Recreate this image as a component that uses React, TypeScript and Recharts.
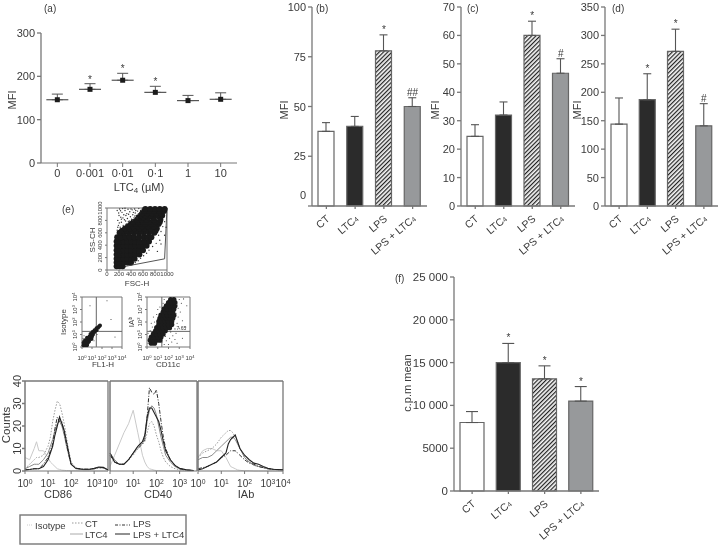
import React from "react";
import {
  Bar,
  Cell,
  ComposedChart,
  ErrorBar,
  LabelList,
  Line,
  LineChart,
  ReferenceDot,
  ReferenceLine,
  Scatter,
  ScatterChart,
  XAxis,
  YAxis,
} from "recharts";

const FONT = "'Liberation Sans', Arial, sans-serif";
const AXIS = "#777";
const TEXT = "#3a3a3a";

// (a)
const doseLabels = ["0", "0·001", "0·01", "0·1", "1", "10"];
const doseMeans = [146, 170, 191, 163, 144, 147];
const doseErrors = [13, 13, 16, 14, 12, 15];
const doseMarks = ["", "*", "*", "*", "", ""];

// (b), (c), (d), (f)
const treatments = ["CT", "LTC4", "LPS", "LPS + LTC4"];
const barFills = ["#fff", "#2b2b2b", "url(#hatch)", "#97999b"];
const cd86Means = [37.5, 40, 78, 50];
const cd86Errors = [4.4, 5, 8, 4.4];
const cd86Marks = ["", "", "*", "##"];
const cd40Means = [24.5, 32, 60, 46.7];
const cd40Errors = [4.1, 4.6, 5, 5.1];
const cd40Marks = ["", "", "*", "#"];
const iabMeans = [144, 187, 272, 141];
const iabErrors = [46, 45.6, 39, 39];
const iabMarks = ["", "*", "*", "#"];
const cpmMeans = [8000, 15000, 13100, 10500];
const cpmErrors = [1280, 2240, 1520, 1700];
const cpmMarks = ["", "*", "*", "*"];

// (e) histograms, x is log10 of the fluorescence
const cd86X = [0, 0.2, 0.4, 0.5, 0.6, 0.8, 1, 1.1, 1.2, 1.3, 1.4, 1.5, 1.6, 1.7, 1.8, 1.9, 2, 2.2, 2.5, 2.8, 3, 3.2, 3.4, 3.6];
const cd86Isotype = [6, 5, 10, 13, 9, 9, 6, 4, 3, 2, 1, 0.7, 0.4, 0.3, 0.2, 0.2, 0.1, 0.1, 0, 0, 0, 0, 0, 0];
const cd86CT = [1, 3, 5, 6, 6, 7, 11, 15, 22, 27, 31, 30, 26, 21, 15, 9, 4, 1.5, 0.8, 0.6, 1, 1.3, 1.3, 0.5];
const cd86LTC4 = [1, 2, 3, 3, 3, 5, 8, 11, 14, 18, 21, 22, 20, 16, 11, 7, 3, 1, 0.6, 0.6, 1, 1.5, 1.4, 0.5];
const cd86LPS = [0.5, 0.7, 1, 1, 1, 3, 6, 9, 12, 19, 24, 22, 22, 17, 12, 7, 3, 1.2, 0.8, 0.8, 1, 1.6, 1.5, 0.5];
const cd86Both = [0.5, 0.7, 1, 1, 1, 2, 5, 8, 11, 16, 20, 24, 21, 18, 13, 8, 3, 1.2, 0.8, 0.8, 1.2, 1.8, 1.6, 0.5];

const cd40X = [0, 0.2, 0.4, 0.6, 0.8, 1, 1.2, 1.3, 1.4, 1.5, 1.6, 1.7, 1.8, 1.9, 2, 2.1, 2.2, 2.3, 2.4, 2.6, 2.8, 3, 3.3, 3.6];
const cd40Isotype = [2, 7, 12, 17, 21, 27, 17, 12, 7, 4, 2, 1, 0.7, 0.4, 0.2, 0.2, 0.1, 0.1, 0, 0, 0, 0, 0, 0];
const cd40CT = [8, 4, 3, 3, 5, 7, 10, 11, 12, 13, 17, 21, 22, 20, 16, 13, 9, 6, 4, 2, 1, 0.6, 0.3, 0.2];
const cd40LTC4 = [8, 5, 3, 3, 5, 8, 11, 12, 13, 15, 22, 27, 29, 28, 25, 20, 15, 11, 7, 4, 2, 1, 0.5, 0.2];
const cd40LPS = [7, 4, 3, 3, 5, 8, 10, 11, 12, 14, 24, 37, 35, 34, 36, 30, 22, 15, 10, 5, 2.5, 1, 0.4, 0.2];
const cd40Both = [8, 4, 3, 3, 5, 8, 11, 12, 13, 16, 24, 28, 28, 26, 24, 22, 18, 13, 9, 5, 2.5, 1.2, 0.5, 0.2];

const iabX = [0, 0.2, 0.4, 0.6, 0.8, 1, 1.2, 1.3, 1.4, 1.5, 1.6, 1.7, 1.8, 2, 2.2, 2.4, 2.6, 2.8, 3, 3.2, 3.4, 3.65];
const iabIsotype = [6, 9, 10, 10, 9, 9, 6, 4, 2, 1.5, 1, 0.5, 0.3, 0.1, 0.1, 0, 0, 0, 0, 0, 0, 0];
const iabCT = [6, 8, 9, 10, 12, 15, 17, 18, 18, 17, 15, 13, 10, 6, 4, 3, 2, 1.5, 1, 0.8, 0.6, 0.5];
const iabLTC4 = [5, 6, 6, 7, 9, 11, 13, 14, 15, 15, 14, 12, 10, 6, 4, 2.5, 2, 1.5, 1, 0.8, 0.6, 0.5];
const iabLPS = [1, 1.5, 2, 3, 4, 6, 7, 8, 9, 9, 9, 8, 7, 5, 3.5, 3, 2, 1.5, 1, 0.8, 0.6, 0.5];
const iabBoth = [0.5, 1, 2, 3, 4, 6, 8, 12, 14, 15, 16, 13, 10, 7, 5, 3.5, 3, 2, 1.2, 0.8, 0.7, 0.5];

// (e) dot plots, the dense parts are read as a coarse set of points
const fscDense = [
  [160, 60], [210, 60], [260, 60],
  [160, 120], [220, 120], [280, 120], [340, 120], [400, 120],
  [160, 180], [220, 180], [280, 180], [340, 180], [400, 180], [460, 180],
  [160, 250], [220, 250], [280, 250], [340, 250], [400, 250], [470, 250], [540, 250],
  [160, 320], [220, 320], [280, 320], [340, 320], [400, 320], [470, 320], [540, 320], [600, 320],
  [160, 390], [220, 390], [280, 390], [340, 390], [400, 390], [470, 390], [540, 390], [600, 390], [660, 390],
  [160, 460], [220, 460], [280, 460], [340, 460], [400, 460], [470, 460], [540, 460], [620, 460], [700, 460],
  [170, 530], [240, 530], [310, 530], [380, 530], [450, 530], [530, 530], [610, 530], [680, 530], [740, 530],
  [210, 600], [290, 600], [370, 600], [450, 600], [530, 600], [610, 600], [700, 600], [790, 600],
  [250, 635], [330, 635], [410, 635], [490, 635], [570, 635], [650, 635], [740, 635], [810, 635],
  [300, 670], [380, 670], [460, 670], [540, 670], [620, 670], [720, 670], [830, 670],
  [350, 705], [430, 705], [510, 705], [590, 705], [680, 705], [790, 705],
  [400, 740], [480, 740], [560, 740], [640, 740], [750, 740], [860, 740],
  [440, 775], [520, 775], [600, 775], [700, 775], [810, 775], [880, 775],
  [500, 810], [580, 810], [660, 810], [780, 810], [890, 810],
  [530, 845], [610, 845], [690, 845], [780, 845], [880, 845],
  [560, 880], [640, 880], [730, 880], [830, 880], [920, 880],
  [590, 915], [670, 915], [750, 915], [830, 915], [900, 915],
  [620, 950], [700, 950], [790, 950], [870, 950], [950, 950],
  [640, 985], [720, 985], [800, 985], [880, 985], [960, 985],
];
const fscSparse = [
  [170, 640], [190, 720], [180, 800], [200, 880], [170, 960], [220, 690], [240, 770], [230, 850], [250, 930], [210, 985],
  [270, 720], [290, 810], [280, 890], [300, 960], [320, 740], [340, 830], [330, 910], [350, 980], [370, 790], [390, 860],
  [380, 940], [410, 820], [430, 890], [420, 970], [450, 840], [470, 920], [460, 985], [490, 880], [510, 950], [530, 990],
  [560, 960], [590, 995], [860, 560], [900, 620], [930, 700], [880, 480], [960, 780], [820, 430], [760, 380], [700, 320],
  [660, 270], [610, 230], [560, 190], [520, 150], [470, 120], [420, 90], [840, 300], [900, 420], [960, 560], [985, 690],
  [205, 760], [265, 840], [315, 880], [360, 900], [400, 985], [440, 930], [480, 960], [520, 900], [180, 690], [260, 990],
  [310, 790], [355, 780], [425, 800], [465, 870], [300, 995], [240, 820], [195, 920], [545, 925], [500, 840], [225, 955],
];
const isotypeDense = [
  [0.15, 0.15], [0.3, 0.15], [0.5, 0.15], [0.15, 0.35], [0.35, 0.35], [0.55, 0.3], [0.7, 0.45], [0.3, 0.55],
  [0.5, 0.55], [0.75, 0.65], [0.95, 0.65], [0.5, 0.75], [0.75, 0.85], [1, 0.85], [0.85, 1.05], [1.1, 1],
  [1.05, 1.2], [1.25, 1.2], [1.25, 1.35], [1.45, 1.35], [1.45, 1.5], [1.6, 1.55], [1.7, 1.65], [1.8, 1.72],
];
const isotypeSparse = [[0.1, 0.7], [0.05, 0.5], [0.2, 0.9], [1.2, 0.5], [1.5, 1], [0.8, 3.3], [2.5, 3.7], [2.9, 2.2], [3.3, 0.8]];
const cd11cDense = [
  [0.4, 0.3], [0.7, 0.3],
  [0.3, 0.55], [0.6, 0.55], [0.9, 0.55], [1.2, 0.55],
  [0.4, 0.8], [0.7, 0.8], [1, 0.8], [1.3, 0.8],
  [0.6, 1.05], [0.9, 1.05], [1.2, 1.05], [1.5, 1.05],
  [0.8, 1.3], [1.1, 1.3], [1.4, 1.3], [1.7, 1.3],
  [0.9, 1.55], [1.2, 1.55], [1.5, 1.55], [1.8, 1.55], [2.1, 1.55],
  [1.1, 1.8], [1.4, 1.8], [1.7, 1.8], [2, 1.8], [2.3, 1.8],
  [1.1, 2.05], [1.4, 2.05], [1.7, 2.05], [2, 2.05], [2.3, 2.05],
  [1.2, 2.3], [1.5, 2.3], [1.8, 2.3], [2.1, 2.3], [2.4, 2.3],
  [1.3, 2.55], [1.6, 2.55], [1.9, 2.55], [2.2, 2.55], [2.5, 2.55],
  [1.5, 2.8], [1.8, 2.8], [2.1, 2.8], [2.4, 2.8],
  [1.6, 3.05], [1.9, 3.05], [2.2, 3.05], [2.5, 3.05],
  [1.8, 3.3], [2.1, 3.3], [2.4, 3.3], [2.6, 3.3],
  [2, 3.55], [2.3, 3.55], [2.6, 3.55],
  [2.2, 3.8], [2.5, 3.8],
];
const cd11cSparse = [
  [0.1, 0.3], [0.15, 0.7], [0.1, 1.1], [0.3, 1.3], [0.5, 1.6], [0.4, 1.9], [0.7, 2], [0.6, 2.4], [0.9, 2.6], [1, 3],
  [1.2, 3.2], [1.5, 3.5], [1.6, 3.8], [3, 3.8], [3.2, 3.5], [2.9, 3.1], [3.1, 2.8], [2.9, 2.4], [3.3, 2.1], [2.8, 1.9],
  [3, 1.5], [2.7, 1.1], [2.4, 0.9], [2.1, 0.7], [1.8, 0.5], [2.3, 0.4], [2, 0.2], [2.6, 0.6], [1.6, 0.2], [2.8, 0.3],
  [3.3, 0.7], [3.6, 1.6], [3.7, 3.3], [3.4, 3.85], [1.4, 0.4], [1.7, 0.85], [2.2, 1.2], [2.6, 1.45], [2.7, 2.7], [2.75, 3.4],
];

const logTickLabels = ["0", "1", "2", "3", "4"];

const toPoints = (list: number[][]) => list.map(([x, y]) => ({ x, y }));

const DoseTick = (props: any) => (
  <text x={props.x} y={props.y + 8} textAnchor="middle" fontSize={11} fontFamily={FONT} fill={TEXT}>
    {props.payload.value}
  </text>
);

// the name slants up to the tick, with the 4 of LTC4 written small
const TreatmentTick = (props: any) => {
  const name: string = props.payload.value;
  const small = name.endsWith("LTC4");
  return (
    <text
      x={props.x + 4}
      y={props.y + 9}
      textAnchor="end"
      fontSize={10.5}
      fontFamily={FONT}
      fill={TEXT}
      transform={`rotate(-40 ${props.x + 4} ${props.y + 9})`}
    >
      {small ? name.slice(0, -1) : name}
      {small ? <tspan fontSize={7}>4</tspan> : null}
    </text>
  );
};

// (b) has its zero label lifted off the axis
const ValueTick = (props: any) => (
  <text
    x={props.x}
    y={props.y + 4 - (props.liftZero && props.payload.value === 0 ? 11 : 0)}
    textAnchor="end"
    fontSize={props.size || 11}
    fontFamily={FONT}
    fill={TEXT}
  >
    {props.format ? props.format(props.payload.value) : props.payload.value}
  </text>
);

const MeanDot = (props: any) => (
  <g key={props.index}>
    <line x1={props.cx - 11} x2={props.cx + 11} y1={props.cy} y2={props.cy} stroke="#555" strokeWidth={1.2} />
    <rect x={props.cx - 2.5} y={props.cy - 2.5} width={5} height={5} fill="#1c1c1c" />
  </g>
);

const DosePanel = () => {
  const data = doseLabels.map((label, i) => ({
    label,
    mean: doseMeans[i],
    err: [0, doseErrors[i]],
    top: doseMeans[i] + doseErrors[i],
    mark: doseMarks[i],
  }));
  return (
    <div style={{ position: "absolute", left: 0, top: 0 }}>
      <ComposedChart width={240} height={190} data={data} margin={{ top: 33, right: 3, bottom: 0, left: 0 }}>
        <XAxis dataKey="label" scale="band" height={27} tick={<DoseTick />} interval={0} stroke={AXIS} tickSize={4} />
        <YAxis width={41} domain={[0, 300]} ticks={[0, 100, 200, 300]} tick={<ValueTick />} stroke={AXIS} strokeWidth={1.3} tickSize={4} />
        <Line dataKey="mean" stroke="none" isAnimationActive={false} dot={(p: any) => <MeanDot {...p} />}>
          <ErrorBar dataKey="err" direction="y" width={5.5} stroke="#555" strokeWidth={1} />
        </Line>
        <Line dataKey="top" stroke="none" dot={false} isAnimationActive={false}>
          <LabelList dataKey="mark" position="top" offset={1} fontSize={10} fontFamily={FONT} fill={TEXT} />
        </Line>
      </ComposedChart>
    </div>
  );
};

type BarPanelProps = {
  left: number;
  top: number;
  plotWidth: number;
  plotHeight: number;
  axisWidth: number;
  maxValue: number;
  yTicks: number[];
  means: number[];
  errors: number[];
  marks: string[];
  barSize: number;
  capWidth: number;
  labelHeight: number;
  liftZero?: boolean;
  tickSize?: number;
  format?: (value: number) => string;
};

const BarPanel = (props: BarPanelProps) => {
  const data = treatments.map((name, i) => ({
    name,
    mean: props.means[i],
    err: [0, props.errors[i]],
    top: props.means[i] + props.errors[i],
    mark: props.marks[i],
  }));
  return (
    <div style={{ position: "absolute", left: props.left, top: props.top }}>
      <ComposedChart
        width={props.axisWidth + props.plotWidth + 1}
        height={props.plotHeight + 10 + props.labelHeight}
        data={data}
        margin={{ top: 10, right: 1, bottom: 0, left: 0 }}
      >
        <defs>
          <pattern id="hatch" width="3" height="3" patternUnits="userSpaceOnUse" patternTransform="rotate(45)">
            <rect width="3" height="3" fill="#f4f4f4" />
            <rect width="1.2" height="3" fill="#222" />
          </pattern>
        </defs>
        <XAxis dataKey="name" height={props.labelHeight} tick={<TreatmentTick />} interval={0} stroke={AXIS} strokeWidth={1.3} tickSize={3} />
        <YAxis
          width={props.axisWidth}
          domain={[0, props.maxValue]}
          ticks={props.yTicks}
          interval={0}
          tick={<ValueTick liftZero={props.liftZero} size={props.tickSize} format={props.format} />}
          stroke={AXIS}
          strokeWidth={1.3}
          tickSize={4}
        />
        <Bar dataKey="mean" barSize={props.barSize} stroke="#666" strokeWidth={1.2} isAnimationActive={false}>
          {data.map((entry, i) => (
            <Cell key={entry.name} fill={barFills[i]} />
          ))}
          <ErrorBar dataKey="err" direction="y" width={props.capWidth} stroke="#555" strokeWidth={1.1} />
        </Bar>
        <Line dataKey="top" stroke="none" dot={false} isAnimationActive={false}>
          <LabelList dataKey="mark" position="top" offset={2} fontSize={10} fontFamily={FONT} fill={TEXT} />
        </Line>
      </ComposedChart>
    </div>
  );
};

const DecadeXTick = (props: any) => (
  <text x={props.x} y={props.y + props.drop} textAnchor="middle" fontSize={props.size} fontFamily={FONT} fill={TEXT}>
    10
    <tspan fontSize={props.size * 0.68} dy={-props.size * 0.35}>
      {props.labels[props.index]}
    </tspan>
  </text>
);

const DecadeYTick = (props: any) => (
  <text
    x={props.x - 1}
    y={props.y}
    textAnchor="middle"
    fontSize={props.size}
    fontFamily={FONT}
    fill={TEXT}
    transform={`rotate(-90 ${props.x - 1} ${props.y})`}
  >
    10
    <tspan fontSize={props.size * 0.68} dy={-props.size * 0.35}>
      {props.labels[props.index]}
    </tspan>
  </text>
);

const UprightYTick = (props: any) => (
  <text
    x={props.x + (props.shift || 0)}
    y={props.y}
    textAnchor="middle"
    fontSize={props.size}
    fontFamily={FONT}
    fill={TEXT}
    transform={`rotate(-90 ${props.x + (props.shift || 0)} ${props.y})`}
  >
    {props.payload.value}
  </text>
);

type HistPanelProps = {
  left: number;
  plotWidth: number;
  x: number[];
  isotype: number[];
  ct: number[];
  ltc4: number[];
  lps: number[];
  both: number[];
  xMax: number;
  xTicks: number[];
  showCounts?: boolean;
};

const HistPanel = (props: HistPanelProps) => {
  const data = props.x.map((x, i) => ({
    x,
    isotype: props.isotype[i],
    ct: props.ct[i],
    ltc4: props.ltc4[i],
    lps: props.lps[i],
    both: props.both[i],
  }));
  return (
    <div style={{ position: "absolute", left: props.left - 20, top: 371 }}>
      <LineChart width={props.plotWidth + 34} height={125} data={data} margin={{ top: 10, right: 14, bottom: 0, left: 0 }}>
        <XAxis
          dataKey="x"
          type="number"
          domain={[0, props.xMax]}
          ticks={props.xTicks}
          interval={0}
          height={25}
          tick={<DecadeXTick labels={logTickLabels} size={10} drop={11} />}
          stroke={AXIS}
          tickSize={3}
        />
        <YAxis
          width={20}
          domain={[0, 40]}
          ticks={[0, 10, 20, 30, 40]}
          interval={0}
          tick={props.showCounts ? <UprightYTick size={11} shift={1} /> : false}
          stroke={AXIS}
          strokeWidth={1.5}
          tickSize={3}
        />
        <ReferenceLine y={40} stroke={AXIS} strokeWidth={1.3} />
        <ReferenceLine x={props.xMax} stroke={AXIS} strokeWidth={1.3} />
        <Line dataKey="isotype" stroke="#c9c9c9" strokeWidth={1} dot={false} isAnimationActive={false} />
        <Line dataKey="ct" stroke="#9a9a9a" strokeWidth={1} strokeDasharray="1.5 1.5" dot={false} isAnimationActive={false} />
        <Line dataKey="ltc4" stroke="#8a8a8a" strokeWidth={1} dot={false} isAnimationActive={false} />
        <Line dataKey="lps" stroke="#333" strokeWidth={1} strokeDasharray="4 1.5 1 1.5" dot={false} isAnimationActive={false} />
        <Line dataKey="both" stroke="#222" strokeWidth={1.1} dot={false} isAnimationActive={false} />
      </LineChart>
    </div>
  );
};

const speck = (r: number, fill: string) => (p: any) => <circle cx={p.cx} cy={p.cy} r={r} fill={fill} />;

const FscPanel = () => (
  <div style={{ position: "absolute", left: 87, top: 198 }}>
    <ScatterChart width={90} height={88} margin={{ top: 10, right: 10, bottom: 0, left: 0 }}>
      <XAxis
        dataKey="x"
        type="number"
        domain={[0, 1000]}
        ticks={[0, 200, 400, 600, 800, 1000]}
        interval={0}
        height={16}
        tick={{ fontSize: 6, fontFamily: FONT, fill: TEXT }}
        stroke={AXIS}
        tickSize={2}
        tickMargin={0}
      />
      <YAxis
        dataKey="y"
        type="number"
        domain={[0, 1000]}
        ticks={[0, 200, 400, 600, 800, 1000]}
        interval={0}
        width={20}
        tick={<UprightYTick size={6} shift={-1} />}
        stroke={AXIS}
        tickSize={2}
      />
      <ReferenceLine y={1000} stroke={AXIS} />
      <ReferenceLine x={1000} stroke={AXIS} />
      <Scatter data={toPoints(fscDense)} shape={speck(3, "#1a1a1a")} isAnimationActive={false} />
      <Scatter data={toPoints(fscSparse)} shape={speck(0.7, "#333")} isAnimationActive={false} />
      <ReferenceLine segment={[{ x: 150, y: 30 }, { x: 960, y: 180 }]} stroke="#555" />
      <ReferenceLine segment={[{ x: 960, y: 180 }, { x: 1000, y: 1000 }]} stroke="#555" />
    </ScatterChart>
  </div>
);

type LogDotProps = {
  left: number;
  plotWidth: number;
  dense: number[][];
  sparse: number[][];
  denseRadius: number;
  quadX: number;
  quadY: number;
  gateText?: string;
};

const LogDotPanel = (props: LogDotProps) => (
  <div style={{ position: "absolute", left: props.left - 20, top: 287 }}>
    <ScatterChart width={props.plotWidth + 28} height={76} margin={{ top: 10, right: 8, bottom: 0, left: 0 }}>
      <XAxis
        dataKey="x"
        type="number"
        domain={[0, 4]}
        ticks={[0, 1, 2, 3, 4]}
        interval={0}
        height={16}
        tick={<DecadeXTick labels={logTickLabels} size={6} drop={9} />}
        stroke={AXIS}
        tickSize={2}
      />
      <YAxis
        dataKey="y"
        type="number"
        domain={[0, 4]}
        ticks={[0, 1, 2, 3, 4]}
        interval={0}
        width={20}
        tick={<DecadeYTick labels={logTickLabels} size={6} />}
        stroke={AXIS}
        tickSize={2}
      />
      <ReferenceLine y={4} stroke={AXIS} />
      <ReferenceLine x={4} stroke={AXIS} />
      <Scatter data={toPoints(props.dense)} shape={speck(props.denseRadius, "#1c1c1c")} isAnimationActive={false} />
      <Scatter data={toPoints(props.sparse)} shape={speck(0.6, "#444")} isAnimationActive={false} />
      <ReferenceLine x={props.quadX} stroke="#666" />
      <ReferenceLine y={props.quadY} stroke="#666" />
      {props.gateText ? (
        <ReferenceDot
          x={3.2}
          y={1.47}
          r={0}
          label={{ value: props.gateText, fontSize: 5, fontFamily: FONT, fill: TEXT }}
        />
      ) : null}
    </ScatterChart>
  </div>
);

// panel letters, axis titles and the legend box of (e)
const Annotations = () => {
  const t = { fontFamily: FONT, fill: TEXT };
  return (
    <svg width={720} height={545} style={{ position: "absolute", left: 0, top: 0, pointerEvents: "none" }}>
      <g {...t} fontSize={10}>
        <text x={44} y={12}>(a)</text>
        <text x={316} y={12}>(b)</text>
        <text x={467} y={12}>(c)</text>
        <text x={612} y={12}>(d)</text>
        <text x={62} y={213}>(e)</text>
        <text x={395} y={282}>(f)</text>
      </g>
      <g {...t} fontSize={11} textAnchor="middle">
        <text x={16} y={100} transform="rotate(-90 16 100)">MFI</text>
        <text x={288} y={110} transform="rotate(-90 288 110)">MFI</text>
        <text x={439} y={110} transform="rotate(-90 439 110)">MFI</text>
        <text x={581} y={110} transform="rotate(-90 581 110)">MFI</text>
        <text x={411} y={383} transform="rotate(-90 411 383)">c.p.m mean</text>
        <text x={139} y={191}>
          LTC<tspan fontSize={8} dy={2}>4</tspan>
          <tspan dy={-2}> (µM)</tspan>
        </text>
        <text x={58} y={498}>CD86</text>
        <text x={158} y={498}>CD40</text>
        <text x={246} y={498}>IAb</text>
      </g>
      <text {...t} x={10} y={425} fontSize={11.5} textAnchor="middle" transform="rotate(-90 10 425)">Counts</text>
      <g {...t} fontSize={8} textAnchor="middle">
        <text x={137} y={286}>FSC-H</text>
        <text x={95} y={240} transform="rotate(-90 95 240)">SS-CH</text>
        <text x={66} y={322} transform="rotate(-90 66 322)">Isotype</text>
        <text x={134} y={322} transform="rotate(-90 134 322)">IA<tspan fontSize={5} dy={-2}>b</tspan></text>
        <text x={103} y={367}>FL1-H</text>
        <text x={168} y={367}>CD11c</text>
      </g>
      <rect x={20} y={515} width={166} height={29} fill="none" stroke="#777" strokeWidth={1.4} />
      <line x1={27} x2={33} y1={525} y2={525} stroke="#ccc" strokeDasharray="1 1" />
      <line x1={72} x2={83} y1={523} y2={523} stroke="#999" strokeDasharray="1.5 1.5" />
      <line x1={70} x2={83} y1={534} y2={534} stroke="#aaa" />
      <line x1={115} x2={130} y1={525} y2={525} stroke="#333" strokeDasharray="3 1.5 1 1.5" />
      <line x1={115} x2={130} y1={534} y2={534} stroke="#222" />
      <g {...t} fontSize={9.5}>
        <text x={35} y={529}>Isotype</text>
        <text x={85} y={527}>CT</text>
        <text x={85} y={538}>LTC4</text>
        <text x={133} y={527}>LPS</text>
        <text x={133} y={538}>LPS + LTC4</text>
      </g>
    </svg>
  );
};

const App = () => (
  <div style={{ position: "absolute", left: 0, top: 0, width: 720, height: 545, filter: "blur(0.3px)" }}>
    <DosePanel />
    <BarPanel left={285} top={-3} plotWidth={115} plotHeight={199} axisWidth={27} maxValue={100} yTicks={[0, 25, 50, 75, 100]} means={cd86Means} errors={cd86Errors} marks={cd86Marks} barSize={16} capWidth={4} labelHeight={60} liftZero />
    <BarPanel left={434} top={-3} plotWidth={114} plotHeight={199} axisWidth={27} maxValue={70} yTicks={[0, 10, 20, 30, 40, 50, 60, 70]} means={cd40Means} errors={cd40Errors} marks={cd40Marks} barSize={16} capWidth={4} labelHeight={60} />
    <BarPanel left={578} top={-3} plotWidth={113} plotHeight={199} axisWidth={27} maxValue={350} yTicks={[0, 50, 100, 150, 200, 250, 300, 350]} means={iabMeans} errors={iabErrors} marks={iabMarks} barSize={16} capWidth={4} labelHeight={60} />
    <BarPanel left={408} top={267} plotWidth={145} plotHeight={214} axisWidth={46} maxValue={25000} yTicks={[0, 5000, 10000, 15000, 20000, 25000]} means={cpmMeans} errors={cpmErrors} marks={cpmMarks} barSize={24} capWidth={6} labelHeight={54} tickSize={11.5} format={(v) => (v >= 10000 ? `${Math.floor(v / 1000)} 000` : `${v}`)} />
    <FscPanel />
    <LogDotPanel left={82} plotWidth={40} dense={isotypeDense} sparse={isotypeSparse} denseRadius={2} quadX={1.43} quadY={1.25} />
    <LogDotPanel left={147} plotWidth={43} dense={cd11cDense} sparse={cd11cSparse} denseRadius={2.6} quadX={1.38} quadY={1.25} gateText="7.65" />
    <HistPanel left={25} plotWidth={83} x={cd86X} isotype={cd86Isotype} ct={cd86CT} ltc4={cd86LTC4} lps={cd86LPS} both={cd86Both} xMax={3.6} xTicks={[0, 1, 2, 3]} showCounts />
    <HistPanel left={110} plotWidth={87} x={cd40X} isotype={cd40Isotype} ct={cd40CT} ltc4={cd40LTC4} lps={cd40LPS} both={cd40Both} xMax={3.75} xTicks={[0, 1, 2, 3]} />
    <HistPanel left={198} plotWidth={85} x={iabX} isotype={iabIsotype} ct={iabCT} ltc4={iabLTC4} lps={iabLPS} both={iabBoth} xMax={3.65} xTicks={[0, 1, 2, 3, 3.65]} />
    <Annotations />
  </div>
);

export default App;
